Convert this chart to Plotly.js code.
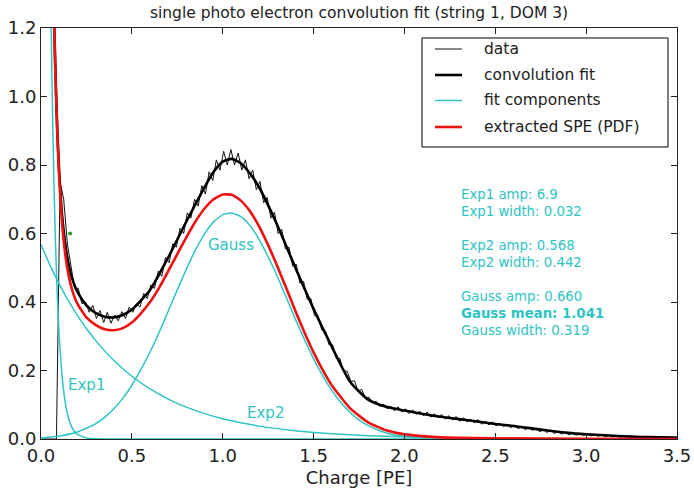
<!DOCTYPE html>
<html>
<head>
<meta charset="utf-8">
<script src="https://cdn.plot.ly/plotly-3.0.1.min.js"></script>
<style>html,body{margin:0;padding:0;background:#fff;}#chart{width:694px;height:492px;}</style>
</head>
<body>
<div id="chart"></div>
<script>
// histogram of measured charge (bin start 0.005, bin width 0.02)
const dataStart = 0.005;
const dataStep = 0.02;
const dataY = [0,0,0,0,0,0.75,0.70,0.57,0.50,0.44,0.44,0.395,0.40,0.37,0.39,0.352,0.375,0.34,0.37,0.338,
0.362,0.345,0.372,0.352,0.385,0.37,0.395,0.385,0.425,0.41,0.45,0.44,0.49,0.475,0.53,0.515,0.57,0.56,0.615,0.6,
0.66,0.645,0.7,0.68,0.74,0.715,0.78,0.755,0.815,0.785,0.84,0.8,0.845,0.8,0.835,0.785,0.815,0.76,0.785,0.728,
0.752,0.69,0.705,0.645,0.662,0.6,0.612,0.555,0.56,0.505,0.51,0.455,0.46,0.408,0.41,0.36,0.36,0.318,0.315,0.275,
0.275,0.235,0.235,0.198,0.198,0.168,0.17,0.14,0.145,0.12,0.122,0.105,0.11,0.095,0.102,0.088,0.096,0.082,0.094,0.079,
0.088,0.074,0.085,0.072,0.081,0.068,0.079,0.064,0.074,0.062,0.072,0.058,0.068,0.056,0.066,0.052,0.062,0.05,0.058,0.047,
0.057,0.043,0.052,0.041,0.05,0.038,0.046,0.036,0.043,0.033,0.041,0.03,0.037,0.027,0.034,0.025,0.031,0.021,0.028,0.019,
0.026,0.016,0.022,0.014,0.02,0.012,0.018,0.011,0.016,0.01,0.015,0.009,0.014,0.008,0.012,0.007,0.011,0.006,0.01,0.005,
0.009,0.005,0.008,0.004,0.007,0.004,0.006,0.003,0.006,0.003,0.005,0.002,0.005,0.002,0.004];

// convolution fit
const fitX = [0.065,0.07,0.08,0.09,0.1,0.12,0.14,0.16,0.18,0.2,0.25,0.3,0.35,0.4,0.45,0.5,0.6,0.7,0.8,0.9,0.95,1.0,1.05,1.1,1.15,1.2,1.3,1.4,1.5,1.6,1.7,1.8,1.9,2.0,2.1,2.2,2.3,2.4,2.5,2.6,2.7,2.8,2.9,3.0,3.1,3.2,3.3,3.4,3.5];
const fitY = [1.42,1.28,1.06,0.9,0.78,0.63,0.545,0.49,0.455,0.43,0.39,0.368,0.357,0.355,0.362,0.378,0.435,0.53,0.635,0.735,0.78,0.81,0.818,0.805,0.775,0.735,0.625,0.5,0.38,0.27,0.168,0.115,0.094,0.083,0.073,0.065,0.058,0.051,0.044,0.038,0.031,0.024,0.018,0.014,0.011,0.008,0.006,0.005,0.004];

// fit components
const exp1X = [0.03,0.04,0.05,0.06,0.07,0.08,0.09,0.1,0.12,0.14,0.16,0.18,0.2,0.25,0.3,0.4,3.5];
const exp1Y = [2.7,1.977,1.446,1.058,0.774,0.566,0.415,0.303,0.162,0.087,0.0465,0.0249,0.0133,0.0028,0.0006,0.0,0.0];
const exp2X = [0,0.05,0.1,0.15,0.2,0.25,0.3,0.4,0.5,0.6,0.7,0.8,0.9,1.0,1.2,1.4,1.6,1.8,2.0,2.25,2.5,3.0,3.5];
const exp2Y = [0.568,0.507,0.453,0.4045,0.361,0.3226,0.288,0.2298,0.1833,0.1462,0.1166,0.093,0.0741,0.0591,0.0376,0.0239,0.0152,0.0097,0.0062,0.0035,0.002,0.0006,0.0002];
const gaussX = [0,0.1,0.2,0.3,0.35,0.4,0.45,0.5,0.55,0.6,0.65,0.7,0.75,0.8,0.85,0.9,0.95,1.0,1.05,1.1,1.15,1.2,1.25,1.3,1.35,1.4,1.45,1.5,1.55,1.6,1.65,1.7,1.75,1.8,1.9,2.0,2.2,2.5,3.0,3.5];
const gaussY = [0.0032,0.0085,0.0204,0.0444,0.0632,0.0877,0.1186,0.157,0.203,0.254,0.311,0.373,0.4355,0.496,0.552,0.599,0.634,0.655,0.66,0.649,0.623,0.583,0.532,0.475,0.413,0.35,0.29,0.234,0.185,0.142,0.1067,0.078,0.056,0.039,0.0176,0.0072,0.0009,0.0,0.0,0.0];

// extracted SPE (PDF)
const speX = [0.06,0.07,0.08,0.09,0.1,0.12,0.14,0.16,0.18,0.2,0.25,0.3,0.35,0.4,0.45,0.5,0.55,0.6,0.65,0.7,0.75,0.8,0.85,0.9,0.95,1.0,1.05,1.1,1.15,1.2,1.25,1.3,1.35,1.4,1.45,1.5,1.55,1.6,1.7,1.8,1.9,2.0,2.2,2.5,3.0,3.5];
const speY = [1.56,1.266,1.047,0.886,0.764,0.606,0.514,0.458,0.421,0.395,0.355,0.333,0.3205,0.3175,0.3238,0.34,0.367,0.4,0.4415,0.49,0.54,0.589,0.635,0.673,0.7,0.714,0.713,0.696,0.665,0.621,0.566,0.505,0.44,0.374,0.311,0.253,0.202,0.157,0.09,0.0487,0.0253,0.0134,0.0048,0.002,0.0006,0.0002];

const markX = [0.16];
const markY = [0.60];

const xTicks = [0,0.5,1.0,1.5,2.0,2.5,3.0,3.5];
const yTicks = [0,0.2,0.4,0.6,0.8,1.0,1.2];

const legendNames = ['data', 'convolution fit', 'fit components', 'extracted SPE (PDF)'];
const paramLines = ['Exp1 amp: 6.9','Exp1 width: 0.032','','Exp2 amp: 0.568','Exp2 width: 0.442','','Gauss amp: 0.660','<b>Gauss mean: 1.041</b>','Gauss width: 0.319'];
const compLabels = ['Exp1','Exp2','Gauss'];
const compLabelX = [0.248,1.238,1.046];
const compLabelY = [0.158,0.076,0.566];

const CYAN = '#2ec4c4';
const RED = '#ee1111';
const FONT = 'DejaVu Sans, sans-serif';
const legendColors = ['#111', '#000', CYAN, RED];
const legendWidths = [1, 2.6, 1.5, 2.6];

const traces = [
  {x0: dataStart, dx: dataStep, y: dataY, type: 'scatter', mode: 'lines', name: legendNames[0],
   line: {color: '#111', width: 1}},
  {x: fitX, y: fitY, type: 'scatter', mode: 'lines', name: legendNames[1],
   line: {color: '#000', width: 2.6, shape: 'spline', smoothing: 0.6}},
  {x: exp1X, y: exp1Y, type: 'scatter', mode: 'lines', name: legendNames[2],
   line: {color: CYAN, width: 1.5, shape: 'spline', smoothing: 0.5}},
  {x: exp2X, y: exp2Y, type: 'scatter', mode: 'lines', name: legendNames[2],
   line: {color: CYAN, width: 1.5, shape: 'spline', smoothing: 0.5}},
  {x: gaussX, y: gaussY, type: 'scatter', mode: 'lines', name: legendNames[2],
   line: {color: CYAN, width: 1.5, shape: 'spline', smoothing: 0.5}},
  {x: speX, y: speY, type: 'scatter', mode: 'lines', name: legendNames[3],
   line: {color: RED, width: 2.6, shape: 'spline', smoothing: 0.5}},
  {x: markX, y: markY, type: 'scatter', mode: 'markers', name: 'marker',
   marker: {color: '#2a9a2a', size: 4}}
];

// pixel helpers for legend / text placement (plot area: 41..677 x 28..439)
const px = v => (v - 41) / 636;
const py = v => (439 - v) / 411;

const annotations = [];
const shapes = [];
paramLines.forEach((t, i) => {
  if (!t) return;
  annotations.push({xref: 'paper', yref: 'paper', x: px(459), y: py(195 + i * 16.9),
    xanchor: 'left', yanchor: 'middle', showarrow: false, text: t,
    font: {family: FONT, size: 13.3, color: CYAN}});
});
compLabels.forEach((t, i) => {
  annotations.push({xref: 'x', yref: 'y', x: compLabelX[i], y: compLabelY[i], showarrow: false,
    text: t, font: {family: FONT, size: 15, color: CYAN}});
});
// legend box
shapes.push({type: 'rect', xref: 'paper', yref: 'paper', x0: px(422), x1: px(668), y0: py(38), y1: py(147),
  line: {color: '#000', width: 1}, fillcolor: '#fff', layer: 'above'});
const rowY = [49, 75, 100.5, 127];
legendNames.forEach((t, i) => {
  shapes.push({type: 'line', xref: 'paper', yref: 'paper', x0: px(435), x1: px(462), y0: py(rowY[i]), y1: py(rowY[i]),
    line: {color: legendColors[i], width: legendWidths[i]}, layer: 'above'});
  annotations.push({xref: 'paper', yref: 'paper', x: px(482), y: py(rowY[i]), xanchor: 'left', yanchor: 'middle',
    showarrow: false, text: t, font: {family: FONT, size: 15.5, color: '#222'}});
});

const axisCommon = {
  showgrid: false, zeroline: false, showline: true, linecolor: '#222', linewidth: 1,
  mirror: 'ticks', ticks: 'inside', ticklen: 6, tickcolor: '#222', tickwidth: 1,
  tickfont: {family: FONT, size: 18, color: '#222'}
};

const layout = {
  width: 694, height: 492,
  margin: {l: 41, r: 17, t: 28, b: 53},
  paper_bgcolor: '#fff', plot_bgcolor: '#fff',
  title: {text: 'single photo electron convolution fit (string 1, DOM 3)',
    font: {family: FONT, size: 15.5, color: '#222'}, x: 0.5, xref: 'paper', xanchor: 'center', y: 0.974, yanchor: 'middle'},
  xaxis: Object.assign({}, axisCommon, {range: [0, 3.5], tickvals: xTicks, tickformat: '.1f',
    title: {text: 'Charge [PE]', font: {family: FONT, size: 18, color: '#222'}, standoff: 6}}),
  yaxis: Object.assign({}, axisCommon, {range: [0, 1.2], tickvals: yTicks, tickformat: '.1f'}),
  annotations: annotations,
  shapes: shapes,
  showlegend: false
};

Plotly.newPlot('chart', traces, layout, {displayModeBar: false, staticPlot: true});
</script>
</body>
</html>
